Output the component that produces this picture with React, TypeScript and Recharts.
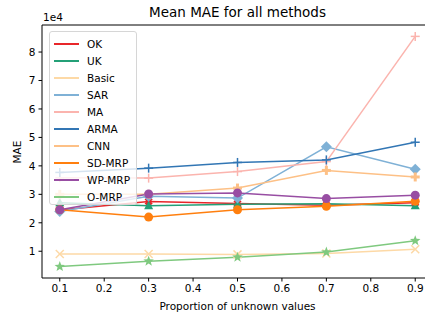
import { LineChart, Line, XAxis, YAxis, ReferenceLine } from 'recharts';

const props = [0.1, 0.3, 0.5, 0.7, 0.9];
const ok = [24500, 27500, 26800, 26200, 27000];
const uk = [27000, 26000, 26500, 26700, 26000];
const basic = [9000, 9000, 8900, 9200, 10700];
const sar = [24000, 29300, 28700, 46700, 38800];
const ma = [35800, 35700, 38000, 41500, 85500];
const arma = [37700, 39200, 41200, 42100, 48300];
const cnn = [30000, 30000, 32200, 38400, 36100];
const sdMrp = [24600, 22000, 24600, 25800, 27600];
const wpMrp = [24600, 30100, 30500, 28500, 29700];
const oMrp = [4600, 6500, 7900, 9700, 13700];

const yTicks = [10000, 20000, 30000, 40000, 50000, 60000, 70000, 80000];
const xTicks = [0.1, 0.2, 0.3, 0.4, 0.5, 0.6, 0.7, 0.8, 0.9];

const series = [
    { key: 'OK', values: ok, color: '#e8262a', marker: 'X' },
    { key: 'UK', values: uk, color: '#24a077', marker: 'tri' },
    { key: 'Basic', values: basic, color: '#fdd9a6', marker: 'x' },
    { key: 'SAR', values: sar, color: '#7fb1d6', marker: 'D' },
    { key: 'MA', values: ma, color: '#fbb4ae', marker: '+' },
    { key: 'ARMA', values: arma, color: '#3276b4', marker: '+' },
    { key: 'CNN', values: cnn, color: '#fdc086', marker: 'P' },
    { key: 'SD-MRP', values: sdMrp, color: '#ff7f0e', marker: 'o' },
    { key: 'WP-MRP', values: wpMrp, color: '#984ea3', marker: 'o' },
    { key: 'O-MRP', values: oMrp, color: '#7fc97f', marker: '*' },
];

const data = props.map((p, i) => {
    const row: any = { x: p };
    series.forEach(s => { row[s.key] = s.values[i]; });
    return row;
});

const font = '"DejaVu Sans", sans-serif';

function starPoints(cx: number, cy: number, r: number) {
    const pts: string[] = [];
    for (let i = 0; i < 10; i++) {
        const rr = i % 2 === 0 ? r : r * 0.42;
        const a = -Math.PI / 2 + (i * Math.PI) / 5;
        pts.push(`${cx + rr * Math.cos(a)},${cy + rr * Math.sin(a)}`);
    }
    return pts.join(' ');
}

function makeDot(marker: string, color: string) {
    return (p: any) => {
        const { cx, cy, index } = p;
        const k = `${marker}-${index}`;
        if (cx == null || cy == null) return <g key={k} />;
        switch (marker) {
            case '+':
                return (
                    <g key={k} stroke={color} strokeWidth={1.5}>
                        <line x1={cx - 4.5} y1={cy} x2={cx + 4.5} y2={cy} />
                        <line x1={cx} y1={cy - 4.5} x2={cx} y2={cy + 4.5} />
                    </g>
                );
            case 'x':
                return (
                    <g key={k} stroke={color} strokeWidth={1.5}>
                        <line x1={cx - 4} y1={cy - 4} x2={cx + 4} y2={cy + 4} />
                        <line x1={cx - 4} y1={cy + 4} x2={cx + 4} y2={cy - 4} />
                    </g>
                );
            case 'X':
                return (
                    <g key={k} stroke={color} strokeWidth={3}>
                        <line x1={cx - 3} y1={cy - 3} x2={cx + 3} y2={cy + 3} />
                        <line x1={cx - 3} y1={cy + 3} x2={cx + 3} y2={cy - 3} />
                    </g>
                );
            case 'P':
                return (
                    <g key={k} stroke={color} strokeWidth={3}>
                        <line x1={cx - 4.5} y1={cy} x2={cx + 4.5} y2={cy} />
                        <line x1={cx} y1={cy - 4.5} x2={cx} y2={cy + 4.5} />
                    </g>
                );
            case 'D':
                return (
                    <polygon key={k} fill={color}
                        points={`${cx},${cy - 5.5} ${cx + 5.5},${cy} ${cx},${cy + 5.5} ${cx - 5.5},${cy}`} />
                );
            case 'tri':
                return (
                    <polygon key={k} fill={color}
                        points={`${cx},${cy - 5} ${cx + 4.5},${cy + 3.5} ${cx - 4.5},${cy + 3.5}`} />
                );
            case '*':
                return <polygon key={k} fill={color} points={starPoints(cx, cy, 5.5)} />;
            default:
                return <circle key={k} cx={cx} cy={cy} r={4.5} fill={color} />;
        }
    };
}

function LegendBox() {
    return (
        <div style={{
            position: 'absolute', left: 49, top: 31, width: 88, height: 174,
            background: 'rgba(255,255,255,0.8)', border: '1px solid #d6d6d6',
            borderRadius: 3, boxSizing: 'border-box',
        }}>
            {series.map((s, i) => (
                <div key={s.key} style={{ position: 'absolute', left: 4, top: 3 + i * 17.1, height: 17, display: 'flex', alignItems: 'center' }}>
                    <div style={{ width: 25, height: 2, background: s.color }} />
                    <span style={{ marginLeft: 8, fontFamily: font, fontSize: 10.5, color: '#000' }}>{s.key}</span>
                </div>
            ))}
        </div>
    );
}

export default function App() {
    return (
        <div style={{ position: 'absolute', left: 0, top: 0, width: 425, height: 318, overflow: 'hidden', background: '#fff' }}>
            <div style={{ position: 'absolute', left: 0, width: 475, top: 4, textAlign: 'center', fontFamily: font, fontSize: 13.5, color: '#000' }}>
                Mean MAE for all methods
            </div>
            <div style={{ position: 'absolute', left: 43, top: 11, fontFamily: font, fontSize: 10.5, color: '#000' }}>1e4</div>
            <div style={{
                position: 'absolute', left: 17, top: 151.5, transform: 'translate(-50%, -50%) rotate(-90deg)',
                fontFamily: font, fontSize: 10.5, color: '#000', whiteSpace: 'nowrap',
            }}>MAE</div>
            <div style={{ position: 'absolute', left: 0, width: 475, top: 300, textAlign: 'center', fontFamily: font, fontSize: 10.5, color: '#000' }}>
                Proportion of unknown values
            </div>
            <LineChart width={433} height={318} data={data} margin={{ top: 25, right: 0, bottom: 0, left: 0 }}>
                <XAxis dataKey="x" type="number" domain={[0.06, 0.94]} ticks={xTicks} allowDataOverflow
                    tickFormatter={(v: number) => v.toFixed(1)} height={40} tickSize={3.5} tickMargin={3}
                    stroke="#000" tick={{ fill: '#000', fontFamily: font, fontSize: 10.5 }} />
                <YAxis type="number" domain={[600, 89500]} ticks={yTicks} allowDataOverflow
                    tickFormatter={(v: number) => String(v / 10000)} width={42} tickSize={3.5} tickMargin={3}
                    stroke="#000" tick={{ fill: '#000', fontFamily: font, fontSize: 10.5 }} />
                <ReferenceLine y={89500} stroke="#000" strokeWidth={1} />
                {series.map(s => (
                    <Line key={s.key} dataKey={s.key} stroke={s.color} strokeWidth={1.5}
                        dot={makeDot(s.marker, s.color)} activeDot={false} isAnimationActive={false} />
                ))}
            </LineChart>
            <LegendBox />
        </div>
    );
}
